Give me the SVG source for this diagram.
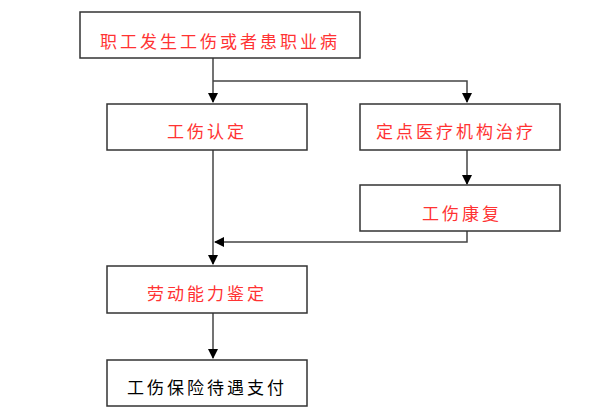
<svg xmlns="http://www.w3.org/2000/svg" width="600" height="416" viewBox="0 0 600 416">
<style>
rect{fill:#fff;stroke:#333;stroke-width:1.5}
text{font-family:"Noto Sans CJK SC",sans-serif;font-size:17px;fill:#f33;letter-spacing:3px}
.k{fill:#000}
#c path{fill:none;stroke:#444;stroke-width:1.5}
</style>
<defs><marker id="a" markerWidth="10" markerHeight="10" refX="9" refY="5" orient="auto" markerUnits="userSpaceOnUse"><path d="M0,0L10,5L0,10z" fill="#000"/></marker></defs>
<rect width="600" height="416" style="stroke:none"/>
<g id="c">
<path d="M213,58V102" marker-end="url(#a)"/>
<path d="M213,81H467V102" marker-end="url(#a)"/>
<path d="M467,150V184" marker-end="url(#a)"/>
<path d="M213,150V264" marker-end="url(#a)"/>
<path d="M467,231V242H215" marker-end="url(#a)"/>
<path d="M213,313V358" marker-end="url(#a)"/>
</g>
<g id="n1"><rect x="80" y="12" width="280" height="46"/><text x="220" y="48" text-anchor="middle">职工发生工伤或者患职业病</text></g>
<g id="n2"><rect x="107" y="104" width="200" height="46"/><text x="207" y="138" text-anchor="middle">工伤认定</text></g>
<g id="n3"><rect x="360" y="104" width="200" height="46"/><text x="456" y="138" text-anchor="middle">定点医疗机构治疗</text></g>
<g id="n4"><rect x="360" y="185" width="200" height="46"/><text x="462" y="220" text-anchor="middle">工伤康复</text></g>
<g id="n5"><rect x="107" y="266" width="200" height="47"/><text x="207" y="300" text-anchor="middle">劳动能力鉴定</text></g>
<g id="n6"><rect x="107" y="360" width="200" height="46"/><text x="207" y="394" text-anchor="middle" class="k">工伤保险待遇支付</text></g>
</svg>
